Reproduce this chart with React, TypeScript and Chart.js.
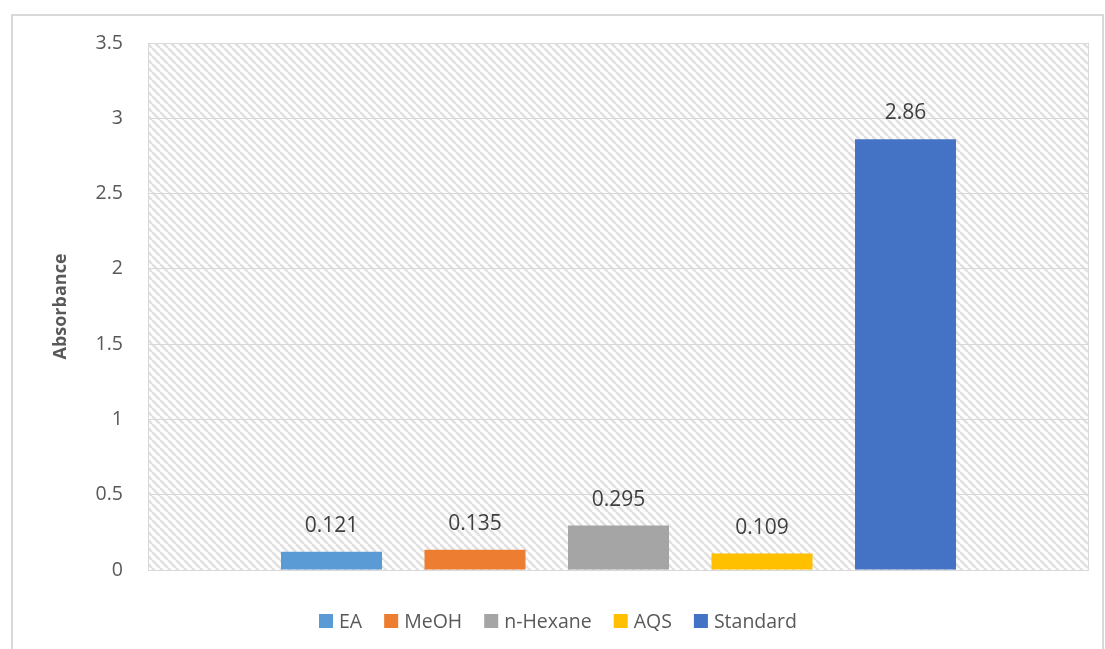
import React, { useEffect, useRef } from "react";
import { Chart, registerables } from "chart.js";

Chart.register(...registerables);

const categories = [""];
const seriesNames = ["EA", "MeOH", "n-Hexane", "AQS", "Standard"];
const seriesValues = [0.121, 0.135, 0.295, 0.109, 2.86];
const seriesLabels = ["0.121", "0.135", "0.295", "0.109", "2.86"];
const seriesColors = ["#5b9bd5", "#ed7d31", "#a5a5a5", "#ffc000", "#4472c4"];
const yTickValues = [0, 0.5, 1, 1.5, 2, 2.5, 3, 3.5];
const yTickLabels = ["0", "0.5", "1", "1.5", "2", "2.5", "3", "3.5"];
const yTitle = "Absorbance";

const FONT = "'Open Sans', 'Noto Sans', sans-serif";

function makePattern(ctx: CanvasRenderingContext2D) {
  const c = document.createElement("canvas");
  const s = 8;
  c.width = s;
  c.height = s;
  const p = c.getContext("2d")!;
  p.fillStyle = "#ffffff";
  p.fillRect(0, 0, s, s);
  p.strokeStyle = "#e0e0e0";
  p.lineWidth = 2.6;
  for (const k of [-s, 0, s]) {
    p.beginPath();
    p.moveTo(k, 0);
    p.lineTo(k + s, s);
    p.stroke();
  }
  return ctx.createPattern(c, "repeat");
}

const decorPlugin = {
  id: "decor",
  beforeDraw(chart: any) {
    const { ctx, chartArea } = chart;
    ctx.save();
    ctx.fillStyle = "#ffffff";
    ctx.fillRect(0, 0, chart.width, chart.height);
    ctx.strokeStyle = "#d9d9d9";
    ctx.lineWidth = 2;
    ctx.strokeRect(12, 15, 1091, 660);
    const pat = makePattern(ctx);
    if (pat) {
      ctx.fillStyle = pat;
      ctx.fillRect(chartArea.left, chartArea.top, chartArea.right - chartArea.left, chartArea.bottom - chartArea.top);
    }
    ctx.restore();
  },
  afterDatasetsDraw(chart: any) {
    const { ctx, chartArea } = chart;
    ctx.save();
    ctx.strokeStyle = "#d9d9d9";
    ctx.lineWidth = 1;
    ctx.strokeRect(chartArea.left + 0.5, chartArea.top + 0.5, chartArea.right - chartArea.left - 1, chartArea.bottom - chartArea.top);
    // data labels
    ctx.font = `21px ${FONT}`;
    ctx.fillStyle = "#404040";
    ctx.textAlign = "center";
    ctx.textBaseline = "middle";
    chart.data.datasets.forEach((ds: any, i: number) => {
      const meta = chart.getDatasetMeta(i);
      const el = meta.data[0];
      if (!el) return;
      ctx.fillText(seriesLabels[i], el.x, el.y - 26);
    });
    // legend
    ctx.font = `19.5px ${FONT}`;
    ctx.textAlign = "left";
    const box = 14;
    const gapBoxText = 6;
    const gapItems = 22;
    const widths = seriesNames.map((n) => box + gapBoxText + ctx.measureText(n).width);
    const total = widths.reduce((a, b) => a + b, 0) + gapItems * (widths.length - 1);
    let x = 558 - total / 2;
    const cy = 621;
    seriesNames.forEach((n, i) => {
      ctx.fillStyle = seriesColors[i];
      ctx.fillRect(x, cy - box / 2, box, box);
      ctx.fillStyle = "#595959";
      ctx.fillText(n, x + box + gapBoxText, cy + 1);
      x += widths[i] + gapItems;
    });
    ctx.restore();
  },
};

export default function App() {
  const ref = useRef<HTMLCanvasElement | null>(null);
  useEffect(() => {
    if (!ref.current) return;
    const chart = new Chart(ref.current, {
      type: "bar",
      data: {
        labels: categories,
        datasets: seriesNames.map((name, i) => ({
          label: name,
          data: [seriesValues[i]],
          backgroundColor: seriesColors[i],
          borderWidth: 0,
          categoryPercentage: 0.7625,
          barPercentage: 0.704,
        })),
      },
      options: {
        responsive: false,
        animation: false,
        layout: { padding: { top: 43, right: 16, bottom: 79, left: 0 } },
        plugins: {
          legend: { display: false },
          tooltip: { enabled: false },
        },
        scales: {
          x: { display: false },
          y: {
            min: 0,
            max: 3.5,
            afterBuildTicks(scale: any) {
              scale.ticks = yTickValues.map((v) => ({ value: v }));
            },
            afterFit(scale: any) {
              scale.width = 148;
            },
            grid: { color: "#d9d9d9", lineWidth: 1, drawTicks: false },
            border: { display: true, color: "#d9d9d9" },
            ticks: {
              padding: 25,
              color: "#595959",
              font: { family: FONT, size: 19.5 },
              callback: (v: any) => {
                const idx = yTickValues.indexOf(Number(v));
                return idx >= 0 ? yTickLabels[idx] : "";
              },
            },
            title: {
              display: true,
              text: yTitle,
              color: "#595959",
              font: { family: FONT, size: 18, weight: "bold" },
              padding: { top: 50, bottom: 0 },
            },
          },
        },
      },
      plugins: [decorPlugin],
    });
    return () => chart.destroy();
  }, []);
  return (
    <div style={{ position: "fixed", left: 0, top: 0, width: 1105, height: 649 }}>
      <canvas ref={ref} width={1105} height={649} style={{ display: "block" }} />
    </div>
  );
}
